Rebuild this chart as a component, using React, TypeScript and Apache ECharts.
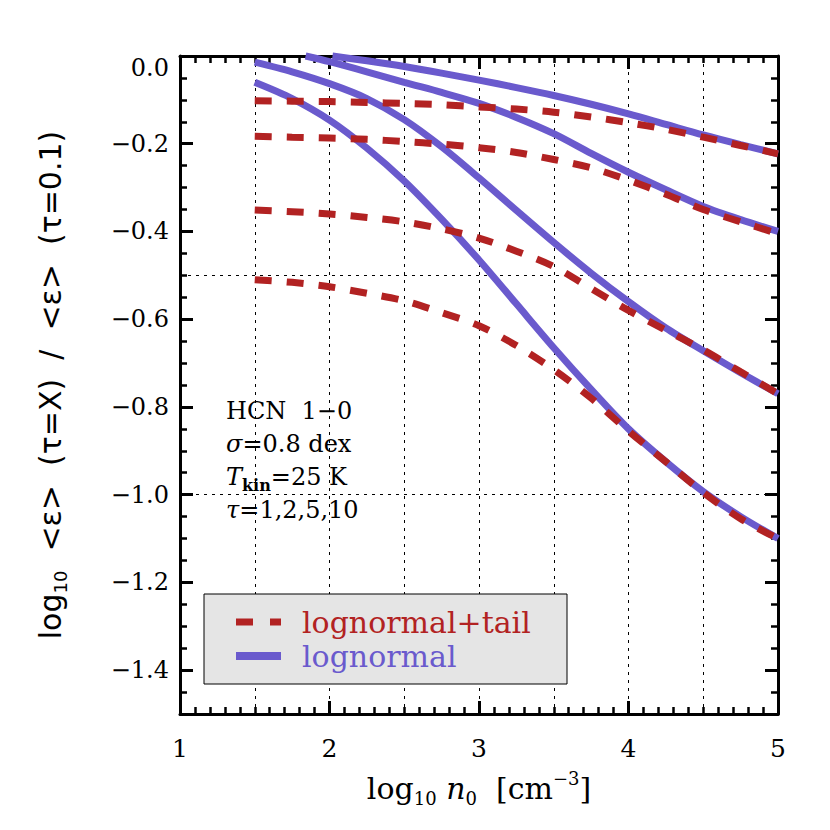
import React, { useEffect, useRef } from 'react';
import * as echarts from 'echarts';

// log10 n0 [cm^-3] sample grid
const logN0 = [1.5, 1.75, 2.0, 2.25, 2.5, 2.75, 3.0, 3.25, 3.5, 3.75, 4.0, 4.25, 4.5, 4.75, 5.0];
// tau = 1 and tau = 2 (lognormal) enter the plot through the top edge
const logN0Tau1 = [2.02, 2.25, 2.5, 2.75, 3.0, 3.25, 3.5, 3.75, 4.0, 4.25, 4.5, 4.75, 5.0];
const logN0Tau2 = [1.84, 2.0, 2.25, 2.5, 2.75, 3.0, 3.25, 3.5, 3.75, 4.0, 4.25, 4.5, 4.75, 5.0];

// lognormal (solid), tau = 1, 2, 5, 10
const lnTau1 = [0.0, -0.011, -0.024, -0.039, -0.055, -0.072, -0.09, -0.11, -0.132, -0.156, -0.18, -0.202, -0.223];
const lnTau2 = [0.0, -0.013, -0.036, -0.06, -0.083, -0.108, -0.14, -0.177, -0.222, -0.265, -0.305, -0.343, -0.373, -0.4];
const lnTau5 = [-0.014, -0.036, -0.063, -0.097, -0.145, -0.207, -0.278, -0.352, -0.425, -0.495, -0.56, -0.62, -0.672, -0.722, -0.77];
const lnTau10 = [-0.06, -0.097, -0.146, -0.21, -0.285, -0.372, -0.465, -0.565, -0.665, -0.76, -0.85, -0.925, -0.993, -1.05, -1.1];

// lognormal + tail (dashed), tau = 1, 2, 5, 10
const tlTau1 = [-0.102, -0.103, -0.104, -0.106, -0.108, -0.111, -0.116, -0.121, -0.128, -0.139, -0.152, -0.167, -0.185, -0.204, -0.223];
const tlTau2 = [-0.183, -0.185, -0.187, -0.19, -0.195, -0.201, -0.209, -0.22, -0.236, -0.255, -0.283, -0.315, -0.35, -0.378, -0.405];
const tlTau5 = [-0.351, -0.355, -0.36, -0.368, -0.378, -0.394, -0.415, -0.445, -0.48, -0.53, -0.58, -0.625, -0.67, -0.72, -0.77];
const tlTau10 = [-0.51, -0.516, -0.526, -0.541, -0.558, -0.585, -0.615, -0.66, -0.715, -0.78, -0.855, -0.925, -0.995, -1.055, -1.1];

const lognormalSeries: [number[], number[]][] = [
  [logN0Tau1, lnTau1],
  [logN0Tau2, lnTau2],
  [logN0, lnTau5],
  [logN0, lnTau10],
];
const tailSeries: [number[], number[]][] = [
  [logN0, tlTau1],
  [logN0, tlTau2],
  [logN0, tlTau5],
  [logN0, tlTau10],
];

const NAME_TAIL = 'lognormal+tail';
const NAME_LN = 'lognormal';
const RED = '#B22222';
const BLUE = '#6A5ACD';
const SERIF = '"DejaVu Serif", serif';
const SANS = '"DejaVu Sans", sans-serif';

const toPairs = (xs: number[], ys: number[]) => xs.map((x, i) => [x, ys[i]]);

export default function App() {
  const ref = useRef<HTMLDivElement>(null);
  useEffect(() => {
    document.body.style.margin = '0';
    const chart = echarts.init(ref.current!, null, { renderer: 'svg' });

    const black = '#000';
    const majorTick = { show: true, inside: true, length: 13, lineStyle: { color: black, width: 3 } };
    const minorTickAxis = { show: true, inside: true, length: 7, lineStyle: { color: black, width: 2.5 } };
    const axisLine = { show: true, onZero: false, lineStyle: { color: black, width: 3 } };
    const gridLine = { show: true, lineStyle: { color: black, width: 1, type: [3, 5] as any } };
    const hidden = {
      axisLine: { show: false },
      axisTick: { show: false },
      axisLabel: { show: false },
    };

    const series: any[] = [];
    lognormalSeries.forEach(([xs, ys]) => {
      series.push({
        name: NAME_LN,
        type: 'line',
        data: toPairs(xs, ys),
        xAxisIndex: 0,
        yAxisIndex: 0,
        showSymbol: false,
        symbol: 'none',
        smooth: 0.3,
        clip: false,
        lineStyle: { color: BLUE, width: 7 },
        itemStyle: { color: BLUE },
        z: 3,
      });
    });
    tailSeries.forEach(([xs, ys]) => {
      series.push({
        name: NAME_TAIL,
        type: 'line',
        data: toPairs(xs, ys),
        xAxisIndex: 0,
        yAxisIndex: 0,
        showSymbol: false,
        symbol: 'none',
        smooth: 0.3,
        clip: false,
        lineStyle: { color: RED, width: 7, type: [17, 15], cap: 'butt' },
        itemStyle: { color: RED },
        z: 4,
      });
    });

    const option: any = {
      animation: false,
      backgroundColor: '#fff',
      grid: { left: 180, right: 52, top: 56, bottom: 116, containLabel: false },
      xAxis: [
        {
          type: 'value',
          min: 1,
          max: 5,
          interval: 1,
          position: 'bottom',
          axisLine,
          axisTick: majorTick,
          minorTick: { show: true, splitNumber: 10, length: 7, lineStyle: { color: black, width: 2.5 } },
          splitLine: { show: false },
          minorSplitLine: { show: false },
          axisLabel: { color: black, fontFamily: SERIF, fontSize: 25, margin: 22 },
          name: 'log{sub|10} {it|n}{sub|0}  [cm{sup|−3}]',
          nameLocation: 'middle',
          nameGap: 55,
          nameTextStyle: {
            color: black,
            fontFamily: SERIF,
            fontSize: 30,
            lineHeight: 38,
            rich: {
              sub: { fontFamily: SERIF, fontSize: 18, color: black, verticalAlign: 'bottom' },
              sup: { fontFamily: SERIF, fontSize: 18, color: black, verticalAlign: 'top' },
              it: { fontFamily: SERIF, fontSize: 30, color: black, fontStyle: 'italic' },
            },
          },
        },
        {
          type: 'value',
          min: 1,
          max: 5,
          interval: 1,
          position: 'top',
          axisLine,
          axisTick: majorTick,
          minorTick: { show: true, splitNumber: 10, length: 7, lineStyle: { color: black, width: 2.5 } },
          splitLine: { show: false },
          axisLabel: { show: false },
        },
        {
          type: 'value',
          min: 1,
          max: 5,
          interval: 0.5,
          position: 'bottom',
          ...hidden,
          splitLine: gridLine,
        },
      ],
      yAxis: [
        {
          type: 'value',
          min: -1.5,
          max: 0,
          splitNumber: 7,
          position: 'left',
          axisLine,
          axisTick: majorTick,
          splitLine: { show: false },
          axisLabel: {
            color: black,
            fontFamily: SERIF,
            fontSize: 24,
            margin: 11,
            formatter: (v: number) => {
              if (Math.abs(v + 1.5) < 1e-6) return '';
              if (Math.abs(v) < 1e-6) return '{top|0.0}';
              return v.toFixed(1).replace('-', '−');
            },
            rich: {
              top: { fontFamily: SERIF, fontSize: 24, color: black, padding: [24, 0, 0, 0] },
            },
          },
          name: 'log{sub|10}  <ε>  (τ=X)  /  <ε>  (τ=0.1)',
          nameLocation: 'middle',
          nameRotate: 90,
          nameGap: 111,
          nameTextStyle: {
            color: black,
            fontFamily: SANS,
            fontSize: 30,
            lineHeight: 38,
            rich: {
              sub: { fontFamily: SANS, fontSize: 18, color: black, verticalAlign: 'bottom' },
            },
          },
        },
        {
          type: 'value',
          min: -1.5,
          max: 0,
          interval: 0.05,
          position: 'left',
          axisLine: { show: false },
          axisTick: minorTickAxis,
          axisLabel: { show: false },
          splitLine: { show: false },
        },
        {
          type: 'value',
          min: -1.5,
          max: 0,
          splitNumber: 7,
          position: 'right',
          axisLine,
          axisTick: majorTick,
          axisLabel: { show: false },
          splitLine: { show: false },
        },
        {
          type: 'value',
          min: -1.5,
          max: 0,
          interval: 0.05,
          position: 'right',
          axisLine: { show: false },
          axisTick: minorTickAxis,
          axisLabel: { show: false },
          splitLine: { show: false },
        },
        {
          type: 'value',
          min: -1.5,
          max: 0,
          interval: 0.5,
          position: 'left',
          ...hidden,
          splitLine: gridLine,
        },
      ],
      legend: {
        left: 204,
        top: 594,
        orient: 'vertical',
        selectedMode: false,
        data: [
          { name: NAME_TAIL, icon: 'path://M0,0H17V7H0Z M34,0H45V7H34Z', textStyle: { color: RED } },
          { name: NAME_LN, icon: 'path://M0,0H45V8H0Z', textStyle: { color: BLUE } },
        ],
        backgroundColor: '#e5e5e5',
        borderColor: black,
        borderWidth: 1,
        borderRadius: 0,
        padding: [13, 22, 13, 32],
        itemWidth: 45,
        itemHeight: 14,
        itemGap: 4,
        itemStyle: { borderWidth: 0 },
        textStyle: { fontFamily: SERIF, fontSize: 30, lineHeight: 28, padding: [0, 0, 0, 16], width: 243 },
      },
      graphic: [
        {
          type: 'text',
          left: 226,
          top: 394,
          z: 10,
          style: {
            text: 'HCN  1−0\n{g|σ}=0.8 dex\n{i|T}{sub|kin}=25 K\n{g|τ}=1,2,5,10',
            fill: black,
            fontFamily: SERIF,
            fontSize: 24,
            lineHeight: 33,
            rich: {
              g: { fontFamily: SERIF, fontSize: 24, fontStyle: 'italic', fill: black, lineHeight: 33 },
              i: { fontFamily: SERIF, fontSize: 24, fontStyle: 'italic', fill: black, lineHeight: 33 },
              sub: { fontFamily: SERIF, fontSize: 16, fontWeight: 'bold', fill: black, verticalAlign: 'bottom', lineHeight: 33 },
            },
          },
        },
      ],
      series,
    };

    chart.setOption(option);
    return () => chart.dispose();
  }, []);
  return <div ref={ref} style={{ width: 830, height: 830 }} />;
}
